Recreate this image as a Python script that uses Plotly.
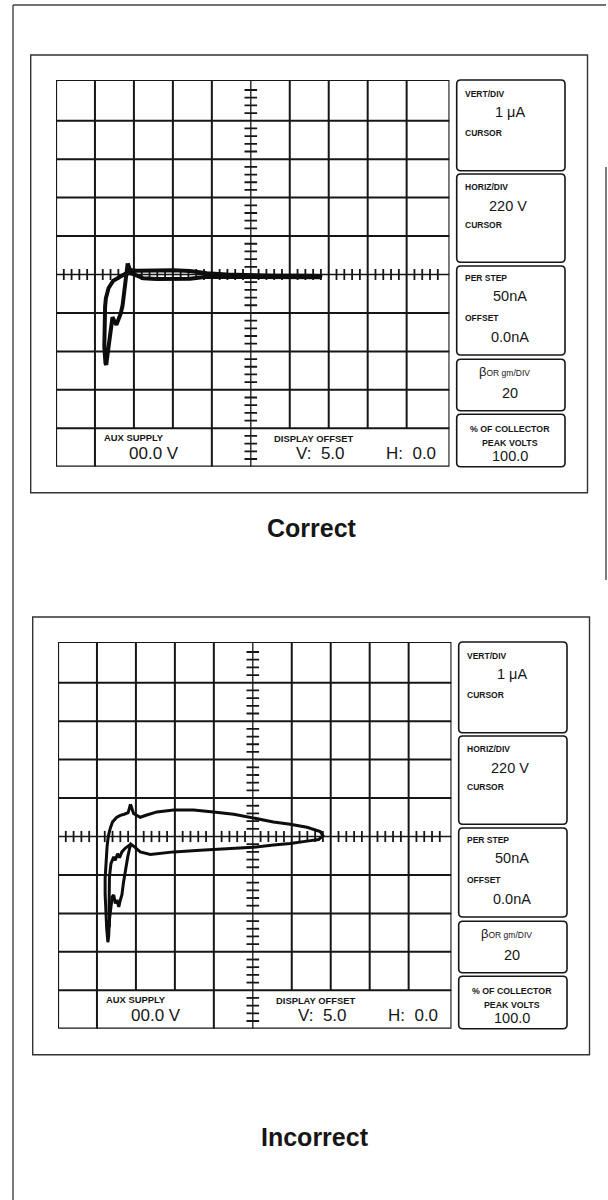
import plotly.graph_objects as go

# ---------------- data (trace positions in screen divisions) ----------------
# "Correct" curve: horizontal divisions (0..10) / vertical divisions (-5..5, 0 = centre line)
correct_x = [1.84, 1.90, 2.07, 2.58, 3.01, 3.44, 3.87, 4.38, 4.98, 5.58, 6.26, 6.78,
             6.80, 6.26, 5.58, 4.98, 4.38, 3.87, 3.44, 3.01, 2.58, 2.24, 2.07, 1.94,
             1.80, 1.64, 1.47, 1.35, 1.28, 1.26, 1.24, 1.24, 1.27, 1.29,
             1.32, 1.36, 1.40, 1.45, 1.50, 1.55, 1.61, 1.66, 1.71, 1.76, 1.80, 1.83, 1.84]
correct_y = [0.29, 0.12, 0.10, 0.11, 0.11, 0.09, 0.03, 0.00, -0.02, -0.03, -0.03, -0.04,
             -0.07, -0.07, -0.065, -0.056, -0.05, -0.06, -0.11, -0.12, -0.12, -0.10, -0.03, 0.03,
             0.03, -0.06, -0.16, -0.35, -0.62, -0.84, -1.36, -1.88, -2.31, -2.35,
             -2.10, -1.75, -1.40, -1.11, -1.22, -1.31, -1.15, -1.02, -0.80, -0.45, -0.10, 0.15, 0.29]

# "Incorrect" curve, main loop
incorrect_x = [1.86, 1.80, 1.70, 1.60, 1.51, 1.40, 1.34, 1.29, 1.26, 1.23, 1.21, 1.21, 1.22, 1.25, 1.28,
               1.30, 1.32, 1.36, 1.39, 1.43, 1.47, 1.51, 1.56, 1.60, 1.64, 1.68, 1.73, 1.79, 1.84, 1.87,
               1.94, 2.11, 2.37, 2.97, 3.65, 3.99, 4.51, 5.00, 5.53, 5.96, 6.39, 6.69, 6.80,
               6.73, 6.39, 5.96, 5.53, 5.00, 4.51, 3.99, 3.48, 2.97, 2.54, 2.28, 2.11, 1.94, 1.86]
incorrect_y = [0.84, 0.62, 0.58, 0.55, 0.50, 0.38, 0.21, 0.00, -0.26, -0.70, -1.09, -1.50, -1.90, -2.40, -2.75,
               -2.60, -2.17, -1.83, -1.57, -1.52, -1.74, -1.65, -1.83, -1.65, -1.52, -1.20, -0.87, -0.53, -0.30, -0.20,
               -0.25, -0.40, -0.47, -0.40, -0.36, -0.34, -0.32, -0.28, -0.22, -0.18, -0.12, -0.08, 0.02,
               0.13, 0.24, 0.32, 0.38, 0.48, 0.58, 0.64, 0.69, 0.69, 0.64, 0.56, 0.50, 0.60, 0.84]
# "Incorrect" curve, inner retrace
incorrect2_x = [1.32, 1.31, 1.32, 1.36, 1.43, 1.47, 1.53, 1.58, 1.64, 1.73, 1.84, 1.87]
incorrect2_y = [-2.35, -1.90, -1.05, -0.70, -0.53, -0.62, -0.45, -0.55, -0.40, -0.30, -0.22, -0.20]

# readout texts
readout_labels = ["VERT/DIV", "CURSOR", "HORIZ/DIV", "CURSOR", "PER STEP", "OFFSET"]
readout_values = ["1 \u03bcA", "220 V", "50nA", "0.0nA"]
beta_value = "20"
collector_label = ["% OF COLLECTOR", "PEAK VOLTS"]
collector_value = "100.0"
aux_label, aux_value = "AUX SUPPLY", "00.0 V"
offset_label, offset_v, offset_h = "DISPLAY OFFSET", "V:&nbsp;&nbsp;5.0", "H:&nbsp;&nbsp;0.0"
captions = ["Correct", "Incorrect"]

# ---------------- layout constants ----------------
W, H = 608, 1200
INK = "#161616"
FONT = "Liberation Sans, Arial, sans-serif"
X_DIV, Y_LO, Y_HI = 10.1, -5.0, 5.06

fig = go.Figure()
shapes, annos = [], []

# canvas axes in pixel units (x, y)
fig.add_trace(go.Scatter(x=[0], y=[0], mode="markers", marker=dict(opacity=0),
                         hoverinfo="skip", showlegend=False, xaxis="x", yaxis="y"))


def px_line(x0, y0, x1, y1, w=1.5, color="#333"):
    shapes.append(dict(type="line", xref="x", yref="y", x0=x0, y0=y0, x1=x1, y1=y1,
                       line=dict(color=color, width=w), layer="below"))


def round_rect(x0, y0, x1, y1, r=4, w=1.6):
    p = (f"M{x0+r},{y0} L{x1-r},{y0} Q{x1},{y0} {x1},{y0+r} L{x1},{y1-r} Q{x1},{y1} {x1-r},{y1} "
         f"L{x0+r},{y1} Q{x0},{y1} {x0},{y1-r} L{x0},{y0+r} Q{x0},{y0} {x0+r},{y0} Z")
    shapes.append(dict(type="path", xref="x", yref="y", path=p,
                       line=dict(color=INK, width=w), layer="below"))


def text(x, y, s, size, anchor="left", bold=False):
    annos.append(dict(xref="x", yref="y", x=x, y=y, text=f"<b>{s}</b>" if bold else s,
                      showarrow=False, xanchor=anchor, yanchor="middle",
                      font=dict(family=FONT, size=size, color=INK)))


# page frame
px_line(13, 5, 13, 1200, 1.4, "#444")
px_line(13, 5, 606, 5, 1.4, "#444")
px_line(606, 167, 606, 580, 1.4, "#444")


def build_panel(dx, dy, axn, tx, ty, lw):
    xa, ya = f"x{axn}", f"y{axn}"
    gx0, gx1 = 56 + dx, 449.5 + dx
    gy0, gy1 = 80 + dy, 466.7 + dy
    fig.update_layout(**{
        f"xaxis{axn}": dict(domain=[gx0 / W, gx1 / W], range=[0, X_DIV], visible=False,
                            anchor=ya, fixedrange=True),
        f"yaxis{axn}": dict(domain=[1 - gy1 / H, 1 - gy0 / H], range=[Y_LO, Y_HI], visible=False,
                            anchor=xa, fixedrange=True),
    })
    # outer box
    shapes.append(dict(type="rect", xref="x", yref="y", x0=30.7 + dx, y0=55 + dy,
                       x1=587.5 + dx, y1=492.7 + dy, line=dict(color="#333", width=1.4),
                       layer="below"))
    # graticule (data coords)
    def gl(x0, y0, x1, y1, w=2.0):
        shapes.append(dict(type="line", xref=xa, yref=ya, x0=x0, y0=y0, x1=x1, y1=y1,
                           line=dict(color=INK, width=w), layer="below"))
    for k in range(1, 10):
        if k == 5:
            gl(k, Y_LO, k, Y_HI, 1.3)
        elif k in (1, 4):
            gl(k, Y_LO, k, Y_HI)
        else:
            gl(k, -4, k, Y_HI)
    for k in range(-4, 5):
        if k == 0:
            gl(0, k, X_DIV, k, 1.3)
        else:
            gl(0, k, X_DIV, k)
    shapes.append(dict(type="rect", xref=xa, yref=ya, x0=0, y0=Y_LO, x1=X_DIV, y1=Y_HI,
                       line=dict(color=INK, width=2.2), layer="below"))
    # minor ticks on centre lines
    hx = [k + j * 0.2 for k in range(10) for j in range(1, 5)]
    vy = [k + j * 0.2 for k in range(-5, 5) for j in range(1, 5)]
    fig.add_trace(go.Scatter(x=hx, y=[0] * len(hx), mode="markers", xaxis=xa, yaxis=ya,
                             marker=dict(symbol="line-ns", size=8, line=dict(color=INK, width=1.8)),
                             hoverinfo="skip", showlegend=False))
    fig.add_trace(go.Scatter(x=[5] * len(vy), y=vy, mode="markers", xaxis=xa, yaxis=ya,
                             marker=dict(symbol="line-ew", size=9, line=dict(color=INK, width=1.8)),
                             hoverinfo="skip", showlegend=False))
    # traces
    for xs, ys in zip(tx, ty):
        fig.add_trace(go.Scatter(x=xs, y=ys, mode="lines", xaxis=xa, yaxis=ya,
                                 line=dict(color="#0d0d0d", width=lw),
                                 hoverinfo="skip", showlegend=False))
    # right readout panels
    rx0, rx1 = 456.7 + dx, 565 + dx
    for (a, b) in [(80, 170.7), (174, 262.3), (266, 355), (359.3, 410.7), (414.3, 466.7)]:
        round_rect(rx0, a + dy, rx1, b + dy)
    lx = 463.3 + dx
    cx = 510 + dx
    text(lx, 94.3 + dy, readout_labels[0], 8.5, bold=True)
    text(cx, 111.7 + dy, readout_values[0], 14.5, "center")
    text(lx, 132.7 + dy, readout_labels[1], 8.5, bold=True)
    text(lx, 186.7 + dy, readout_labels[2], 8.5, bold=True)
    text(cx - 2, 205.7 + dy, readout_values[1], 14.5, "center")
    text(lx, 225 + dy, readout_labels[3], 8.5, bold=True)
    text(lx, 278.3 + dy, readout_labels[4], 8.5, bold=True)
    text(cx, 295.5 + dy, readout_values[2], 14.5, "center")
    text(lx, 318.3 + dy, readout_labels[5], 8.5, bold=True)
    text(cx, 337.3 + dy, readout_values[3], 14.5, "center")
    text(cx - 6, 371.7 + dy, "<span style='font-size:13px'>\u03b2</span>OR gm/DIV", 8.5, "center")
    text(cx, 392.7 + dy, beta_value, 14.5, "center")
    text(cx, 429.3 + dy, collector_label[0], 8.8, "center", bold=True)
    text(cx, 442.7 + dy, collector_label[1], 8.8, "center", bold=True)
    text(cx, 456 + dy, collector_value, 14.5, "center")
    # bottom readouts
    text(101.7 + dx, 437.7 + dy, aux_label, 9.4, bold=True)
    text(154 + dx, 453.3 + dy, aux_value, 17, "center")
    text(272.3 + dx, 438.3 + dy, offset_label, 9.4, bold=True)
    text(320.3 + dx, 453.3 + dy, offset_v, 17, "center")
    text(410.8 + dx, 453.3 + dy, offset_h, 17, "center")


build_panel(0, 0, 2, [correct_x], [correct_y], 4)
build_panel(2, 562, 3, [incorrect_x, incorrect2_x], [incorrect_y, incorrect2_y], 3)

text(311.7, 527.7, captions[0], 25, "center", bold=True)
text(315.3, 1136.7, captions[1], 25, "center", bold=True)

fig.update_layout(
    width=W, height=H, margin=dict(l=0, r=0, t=0, b=0),
    paper_bgcolor="white", plot_bgcolor="rgba(0,0,0,0)",
    xaxis=dict(domain=[0, 1], range=[0, W], visible=False, fixedrange=True),
    yaxis=dict(domain=[0, 1], range=[H, 0], visible=False, fixedrange=True),
    shapes=shapes, annotations=annos, showlegend=False,
)

fig.write_html("out.html", config={"displayModeBar": False},
               post_script="document.body.style.margin='0';document.body.style.overflow='hidden';")
